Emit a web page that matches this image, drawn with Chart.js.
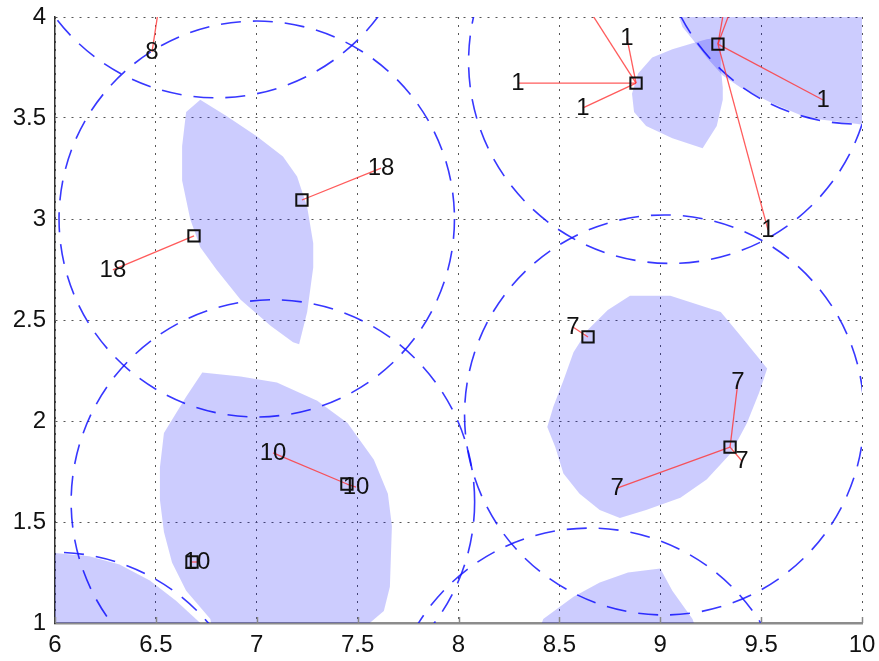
<!DOCTYPE html>
<html>
<head>
<meta charset="utf-8">
<script src="https://cdn.jsdelivr.net/npm/chart.js"></script>
<style>
  html, body { margin: 0; padding: 0; background: #fff; }
  #box { width: 879px; height: 661px; position: relative; }
</style>
</head>
<body>
<div id="box"><canvas id="grafico"></canvas></div>
<script>
// axes
var xMin = 6, xMax = 10, xStep = 0.5;
var yMin = 1, yMax = 4, yStep = 0.5;

// cluster heads (squares); the last one lies above the visible area
var headX = [6.689, 7.224, 7.447, 6.679, 8.642, 9.346, 8.880, 9.286, 6.545];
var headY = [2.916, 3.094, 1.688, 1.302, 2.416, 1.871, 3.673, 3.866, 4.250];

// member nodes: position, label and index of the head they link to
var memberX = [6.481, 6.287, 7.616, 7.081, 7.492, 6.704, 8.567, 9.385, 9.405, 8.786, 8.835, 8.295, 8.617, 8.582, 9.807, 9.534, 9.354, 9.430];
var memberY = [3.827, 2.748, 3.252, 1.842, 1.673, 1.302, 2.465, 2.193, 1.802, 1.668, 3.896, 3.673, 3.550, 4.138, 3.589, 2.946, 4.250, 4.250];
var memberLabel = ['8', '18', '18', '10', '10', '10', '7', '7', '7', '7', '1', '1', '1', '1', '1', '1', '1', '1'];
var memberHead = [8, 0, 1, 2, 2, 3, 4, 5, 5, 5, 6, 6, 6, 6, 7, 7, 7, 7];

// dashed range circles
var circleX = [6.80, 7.00, 7.08, 6.00, 9.02, 9.05, 8.65, 9.98];
var circleY = [4.60, 3.00, 1.60, 0.35, 2.03, 3.78, 0.47, 4.46];
var circleR = [1.00, 0.98, 1.00, 1.00, 0.99, 1.00, 1.00, 0.99];

// shaded regions as [x, y] corners
var regionLeaf = [[6.72, 3.59], [6.85, 3.51], [7.00, 3.41], [7.13, 3.31], [7.20, 3.21], [7.25, 3.06], [7.28, 2.88], [7.28, 2.76], [7.25, 2.54], [7.21, 2.38], [7.18, 2.39], [7.07, 2.47], [6.92, 2.60], [6.80, 2.75], [6.72, 2.86], [6.67, 3.00], [6.63, 3.19], [6.63, 3.36], [6.65, 3.53]];
var regionTen = [[6.73, 2.24], [6.92, 2.22], [7.10, 2.19], [7.30, 2.10], [7.45, 1.99], [7.58, 1.81], [7.65, 1.64], [7.67, 1.48], [7.66, 1.18], [7.63, 1.06], [7.56, 1.00], [7.51, 0.90], [6.79, 0.90], [6.77, 1.02], [6.65, 1.16], [6.58, 1.30], [6.54, 1.45], [6.52, 1.61], [6.52, 1.77], [6.54, 1.94], [6.65, 2.12]];
var regionCorner = [[5.97, 1.35], [6.17, 1.33], [6.32, 1.29], [6.47, 1.21], [6.60, 1.11], [6.72, 1.00], [6.74, 0.90], [5.97, 0.90]];
var regionSeven = [[8.85, 2.62], [9.05, 2.62], [9.30, 2.54], [9.40, 2.42], [9.53, 2.26], [9.49, 2.14], [9.43, 1.99], [9.35, 1.84], [9.23, 1.71], [9.10, 1.62], [8.93, 1.56], [8.80, 1.52], [8.70, 1.56], [8.60, 1.64], [8.52, 1.74], [8.48, 1.87], [8.44, 1.97], [8.47, 2.07], [8.52, 2.20], [8.57, 2.34], [8.64, 2.45], [8.74, 2.55]];
var regionBottom = [[8.42, 1.02], [8.57, 1.13], [8.70, 1.20], [8.84, 1.25], [9.00, 1.27], [9.06, 1.16], [9.16, 1.02], [9.20, 0.90], [8.38, 0.90]];
var regionOne = [[8.87, 3.53], [8.86, 3.62], [8.89, 3.72], [8.96, 3.80], [9.06, 3.84], [9.16, 3.87], [9.23, 3.89], [9.30, 3.90], [9.30, 3.75], [9.31, 3.65], [9.31, 3.59], [9.28, 3.46], [9.21, 3.35], [9.06, 3.40], [8.93, 3.46]];
var regionTop = [[9.06, 4.10], [9.11, 3.95], [9.16, 3.89], [9.23, 3.80], [9.31, 3.71], [9.40, 3.65], [9.56, 3.57], [9.73, 3.50], [9.98, 3.47], [10.05, 3.46], [10.05, 4.10]];
var regions = [regionLeaf, regionTen, regionCorner, regionSeven, regionBottom, regionOne, regionTop];

var fontName = '"Liberation Sans", Arial, sans-serif';

function punti(lista) {
    return lista.map(function(p) { return {x: p[0], y: p[1]}; });
}

var datasets = [];

datasets.push({
    data: headX.map(function(x, i) { return {x: x, y: headY[i]}; }),
    pointStyle: 'rect',
    pointRadius: 8,
    borderWidth: 2,
    borderColor: '#111',
    backgroundColor: 'rgba(0,0,0,0)',
    showLine: false,
    order: 0
});

for (var i = 0; i < memberX.length; i++) {
    var h = memberHead[i];
    datasets.push({
        data: [{x: headX[h], y: headY[h]}, {x: memberX[i], y: memberY[i]}],
        showLine: true,
        borderColor: 'rgba(255,50,50,0.8)',
        borderWidth: 1.3,
        pointRadius: 0,
        order: 1
    });
}

regions.forEach(function(r) {
    datasets.push({
        data: punti(r),
        showLine: true,
        fill: 'shape',
        borderWidth: 0,
        borderColor: 'rgba(0,0,0,0)',
        backgroundColor: 'rgba(0,0,250,0.2)',
        pointRadius: 0,
        order: 2
    });
});

var cerchi = {
    id: 'cerchi',
    beforeDatasetsDraw: function(chart) {
        var ctx = chart.ctx, a = chart.chartArea;
        var sx = chart.scales.x, sy = chart.scales.y;
        ctx.save();
        ctx.beginPath();
        ctx.rect(a.left, a.top, a.right - a.left, a.bottom - a.top);
        ctx.clip();
        ctx.strokeStyle = 'rgba(20,20,255,0.85)';
        ctx.lineWidth = 1.6;
        ctx.setLineDash([20, 12]);
        for (var i = 0; i < circleX.length; i++) {
            var cx = sx.getPixelForValue(circleX[i]);
            var cy = sy.getPixelForValue(circleY[i]);
            var rx = Math.abs(sx.getPixelForValue(circleX[i] + circleR[i]) - cx);
            var ry = Math.abs(sy.getPixelForValue(circleY[i] + circleR[i]) - cy);
            ctx.beginPath();
            ctx.ellipse(cx, cy, rx, ry, 0, 0, Math.PI * 2);
            ctx.stroke();
        }
        ctx.restore();
    }
};

var etichette = {
    id: 'etichette',
    afterDatasetsDraw: function(chart) {
        var ctx = chart.ctx, a = chart.chartArea;
        var sx = chart.scales.x, sy = chart.scales.y;
        ctx.save();
        // small inward ticks on the bottom axis
        ctx.strokeStyle = '#888';
        ctx.lineWidth = 1.5;
        for (var v = xMin; v <= xMax + 1e-9; v += xStep) {
            var px = Math.round(sx.getPixelForValue(v)) + 0.5;
            ctx.beginPath();
            ctx.moveTo(px, a.bottom);
            ctx.lineTo(px, a.bottom - 6);
            ctx.stroke();
        }
        ctx.fillStyle = '#111';
        ctx.font = '24px ' + fontName;
        ctx.textAlign = 'center';
        ctx.textBaseline = 'middle';
        for (var i = 0; i < memberX.length; i++) {
            ctx.fillText(memberLabel[i], sx.getPixelForValue(memberX[i]), sy.getPixelForValue(memberY[i]));
        }
        ctx.restore();
    }
};

new Chart(document.getElementById('grafico'), {
    type: 'scatter',
    data: {datasets: datasets},
    plugins: [cerchi, etichette],
    options: {
        responsive: true,
        maintainAspectRatio: false,
        animation: false,
        events: [],
        layout: {padding: {top: 17, right: 17, left: 0, bottom: 0}},
        plugins: {legend: {display: false}, tooltip: {enabled: false}},
        scales: {
            x: {
                type: 'linear',
                min: xMin,
                max: xMax,
                afterFit: function(s) { s.height = 38; s.paddingLeft = 0; s.paddingRight = 0; },
                ticks: {
                    stepSize: xStep,
                    padding: 8,
                    color: '#111',
                    maxRotation: 0,
                    autoSkip: false,
                    font: {size: 24, family: fontName},
                    callback: function(v) { return String(v); }
                },
                grid: {color: '#555', lineWidth: 1, drawTicks: false},
                border: {display: true, color: '#8c8c8c', width: 2.5, dash: [2, 6]}
            },
            y: {
                type: 'linear',
                min: yMin,
                max: yMax,
                afterFit: function(s) { s.width = 55; s.paddingTop = 0; s.paddingBottom = 0; },
                ticks: {
                    stepSize: yStep,
                    padding: 9,
                    color: '#111',
                    font: {size: 24, family: fontName},
                    callback: function(v) { return String(v); }
                },
                grid: {color: '#555', lineWidth: 1, drawTicks: false},
                border: {display: true, color: '#333', width: 1.5, dash: [2, 6]}
            }
        }
    }
});
</script>
</body>
</html>
